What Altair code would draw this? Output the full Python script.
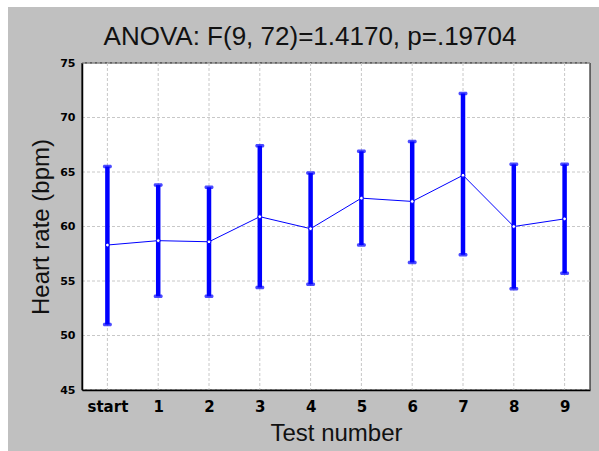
import altair as alt
import pandas as pd

cats = ["start", "1", "2", "3", "4", "5", "6", "7", "8", "9"]
means = [58.3, 58.7, 58.6, 60.9, 59.8, 62.6, 62.3, 64.7, 60.0, 60.7]
upper = [65.5, 63.8, 63.6, 67.4, 64.9, 66.9, 67.8, 72.2, 65.7, 65.7]
lower = [51.0, 53.6, 53.6, 54.4, 54.7, 58.3, 56.7, 57.4, 54.3, 55.7]
yticks = [45, 50, 55, 60, 65, 70, 75]
title_text = "ANOVA: F(9, 72)=1.4170, p=.19704"
x_title = "Test number"
y_title = "Heart rate (bpm)"

W, H = 508, 327
BLUE = "#0000ff"
TICKFONT = "DejaVu Sans"
TITLEFONT = "Liberation Sans"

df = pd.DataFrame({"cat": cats, "mean": means, "upper": upper, "lower": lower})
one = pd.DataFrame({"t": [title_text]})
grid_y = pd.DataFrame({"v": yticks})

xscale = alt.Scale(type="point", padding=0.5, domain=cats)
yscale = alt.Scale(domain=[45, 75], nice=False, zero=False)

xaxis = alt.Axis(title=x_title, labelAngle=0, ticks=False, grid=False,
                 domain=True, domainColor="#000000", domainWidth=1.5,
                 labelFont=TICKFONT, labelFontWeight="bold",
                 labelFontSize=15, labelColor="#000000", labelPadding=9,
                 titleFont=TITLEFONT, titleFontWeight="normal",
                 titleFontSize=24, titleColor="#111111", titlePadding=7,
                 zindex=1)
yaxis = alt.Axis(title=y_title, values=yticks, ticks=False, grid=False,
                 domain=True, domainColor="#000000", domainWidth=1.5,
                 labelFont=TICKFONT, labelFontWeight="bold",
                 labelFontSize=11, labelColor="#000000", labelPadding=7,
                 titleFont=TITLEFONT, titleFontWeight="normal",
                 titleFontSize=24, titleColor="#111111", titlePadding=6,
                 zindex=1)

# decorative panel background (gray) and white plot frame
bg = alt.Chart(one).mark_rect(color="#c0c0c0").encode(
    x=alt.value(-74), x2=alt.value(W + 9), y=alt.value(-56), y2=alt.value(H + 61)
)
frame = alt.Chart(one).mark_rect(fill="white", stroke="#000000", strokeWidth=1).encode(
    x=alt.value(0), x2=alt.value(W), y=alt.value(0), y2=alt.value(H)
)
title = alt.Chart(one).mark_text(font=TITLEFONT, fontSize=26, color="#111111",
                                 align="center", baseline="alphabetic").encode(
    text="t:N", x=alt.value(228), y=alt.value(-18)
)

gy = alt.Chart(grid_y).mark_rule(color="#c8c8c8", strokeDash=[3, 2], strokeWidth=1).encode(
    y=alt.Y("v:Q", scale=yscale, axis=yaxis)
)
gx = alt.Chart(df).mark_rule(color="#c8c8c8", strokeDash=[3, 2], strokeWidth=1).encode(
    x=alt.X("cat:N", scale=xscale, sort=cats, axis=xaxis)
)

base = alt.Chart(df).encode(
    x=alt.X("cat:N", scale=xscale, sort=cats, axis=xaxis)
)

bars = base.mark_rule(color=BLUE, strokeWidth=4.5).encode(
    y=alt.Y("lower:Q", scale=yscale, axis=yaxis),
    y2="upper:Q",
)
cap_hi = base.mark_tick(color=BLUE, thickness=3.5, size=9, cornerRadius=1.5).encode(
    y=alt.Y("upper:Q", scale=yscale, axis=yaxis)
)
cap_lo = base.mark_tick(color=BLUE, thickness=3.5, size=9, cornerRadius=1.5).encode(
    y=alt.Y("lower:Q", scale=yscale, axis=yaxis)
)
line = base.mark_line(color=BLUE, strokeWidth=1).encode(
    y=alt.Y("mean:Q", scale=yscale, axis=yaxis)
)
pts = base.mark_point(filled=True, fill="white", stroke=BLUE, strokeWidth=1, size=14, opacity=1).encode(
    y=alt.Y("mean:Q", scale=yscale, axis=yaxis)
)

chart = alt.layer(bg, frame, title, gy, gx, bars, cap_hi, cap_lo, line, pts).properties(
    width=W, height=H,
    autosize=alt.AutoSizeParams(type="none"),
    padding={"left": 82, "top": 63, "right": 9, "bottom": 61},
    background="white",
).configure_view(stroke=None)

chart.save("out.html", embed_options={"renderer": "svg", "actions": False})
